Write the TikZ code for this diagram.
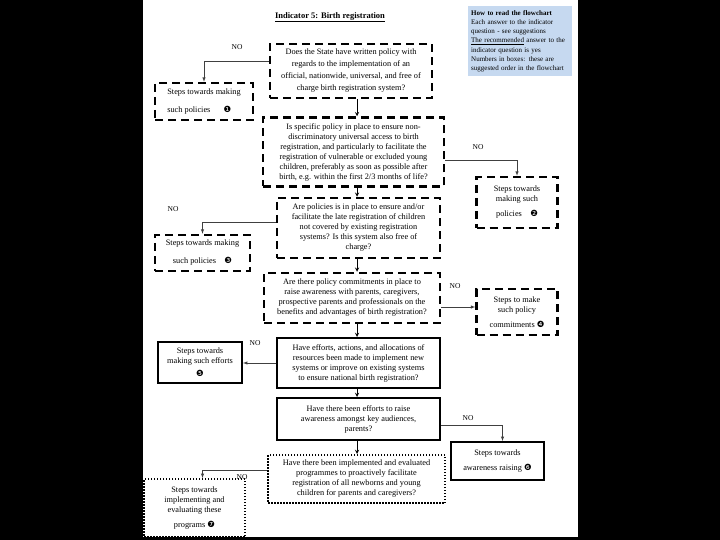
\documentclass[tikz,border=0pt]{standalone}
\usepackage{fontspec}
\setmainfont{Liberation Serif}
\newfontfamily\dingfont{DejaVu Sans}
\usetikzlibrary{arrows}
\definecolor{legendblue}{RGB}{198,217,240}
\newcommand{\stepno}[1]{{\dingfont\fontsize{8.5}{8.5}\selectfont #1}}

\begin{document}
\begin{tikzpicture}
    [x=1pt,y=-1pt,font=\fontsize{8.3}{10}\selectfont,
     dashbox/.style={draw,line width=2.5pt,dash pattern=on 8pt off 5pt,align=center,inner sep=2pt},
     solidbox/.style={draw,line width=2pt,align=center,inner sep=2pt},
     dotbox/.style={draw,line width=2pt,dash pattern=on 1.5pt off 1.5pt,align=center,inner sep=2pt},
     noline/.style={-latex,color=black!75,line width=0.5pt},
     yesline/.style={-stealth,color=black,line width=0.9pt},
     nolabel/.style={font=\fontsize{7.5}{8}\selectfont,inner sep=1pt}]
%page and frame
\fill[black] (0,0) rectangle (720,540);
\fill[white] (143,0) rectangle (578,537);
\useasboundingbox (0,0) rectangle (720,540);
%title and legend
\node[font=\bfseries\fontsize{8.5}{9}\selectfont] (title) at (330,17) {\underline{Indicator 5: Birth registration}};
\node[fill=legendblue,anchor=north west,minimum width=104,minimum height=70,text width=98,align=left,inner sep=3pt,font=\fontsize{7}{9.3}\selectfont] (legend) at (468,6)
  {\textbf{How to read the flowchart}\\Each answer to the indicator\\question - see suggestions\\\underline{The recommended} answer to the\\indicator question is yes\\Numbers in boxes: these are\\suggested order in the flowchart};
%main questions
\node[dashbox,minimum width=162,minimum height=54,font=\fontsize{8.3}{12}\selectfont] (q1) at (351,71)
  {Does the State have written policy with\\regards to the implementation of an\\official, nationwide, universal, and free of\\charge birth registration system?};
\node[dashbox,minimum width=181,minimum height=69] (q2) at (353.5,152)
  {Is specific policy in place to ensure non-\\discriminatory universal access to birth\\registration, and particularly to facilitate the\\registration of vulnerable or excluded young\\children, preferably as soon as possible after\\birth, e.g. within the first 2/3 months of life?};
\node[dashbox,minimum width=163,minimum height=60] (q3) at (358.5,228)
  {Are policies is in place to ensure and/or\\facilitate the late registration of children\\not covered by existing registration\\systems? Is this system also free of\\charge?};
\node[dashbox,minimum width=176,minimum height=50] (q4) at (352,298)
  {Are there policy commitments in place to\\raise awareness with parents, caregivers,\\prospective parents and professionals on the\\benefits and advantages of birth registration?};
\node[solidbox,minimum width=163,minimum height=50] (q5) at (358.5,363)
  {Have efforts, actions, and allocations of\\resources been made to implement new\\systems or improve on existing systems\\to ensure national birth registration?};
\node[solidbox,minimum width=163,minimum height=42] (q6) at (358.5,419)
  {Have there been efforts to raise\\awareness amongst key audiences,\\parents?};
\node[dotbox,minimum width=177,minimum height=48] (q7) at (356.5,479)
  {Have there been implemented and evaluated\\programmes to proactively facilitate\\registration of all newborns and young\\children for parents and caregivers?};
%steps boxes
\node[dashbox,minimum width=98,minimum height=37,align=left] (sA) at (204,101.5)
  {Steps towards making\\[8pt]such policies\hspace{1.6em}\stepno{❶}};
\node[dashbox,minimum width=81,minimum height=51] (sB) at (517,202.5)
  {Steps towards\\making such\\[5pt]policies\quad\stepno{❷}};
\node[dashbox,minimum width=95,minimum height=36] (sC) at (202.5,253)
  {Steps towards making\\[8pt]such policies\quad\stepno{❸}};
\node[dashbox,minimum width=81,minimum height=46] (sD) at (517,312)
  {Steps to make\\such policy\\[5pt]commitments \stepno{❹}};
\node[solidbox,minimum width=84,minimum height=41] (sE) at (200,362.5)
  {Steps towards\\making such efforts\\[3pt]\stepno{❺}};
\node[solidbox,minimum width=93,minimum height=38] (sF) at (497.5,461)
  {Steps towards\\[5pt]awareness raising \stepno{❻}};
\node[dotbox,minimum width=101,minimum height=58] (sG) at (194.5,508)
  {Steps towards\\implementing and\\evaluating these\\[5pt]programs \stepno{❼}};
%NO labels
\node[nolabel] (no1) at (237,47) {NO};
\node[nolabel] (no2) at (478,147) {NO};
\node[nolabel] (no3) at (173,209) {NO};
\node[nolabel] (no4) at (455,286) {NO};
\node[nolabel] (no5) at (255,343) {NO};
\node[nolabel] (no6) at (468,418) {NO};
\node[nolabel] (no7) at (242,477) {NO};
%yes arrows down the middle
\coordinate (spine) at (357,0);
\draw[yesline] (q1.south -| spine) -- (q2.north -| spine);
\draw[yesline] (q2.south -| spine) -- (q3.north -| spine);
\draw[yesline] (q3.south -| spine) -- (q4.north -| spine);
\draw[yesline] (q4.south -| spine) -- (q5.north -| spine);
\draw[yesline] (q5.south -| spine) -- (q6.north -| spine);
\draw[yesline] (q6.south -| spine) -- (q7.north -| spine);
%no arrows to the steps
\draw[noline] ([yshift=10pt]q1.west) -| (sA.north);
\draw[noline] ([yshift=-8pt]q2.east) -| (sB.north);
\draw[noline] ([yshift=6pt]q3.west) -| (sC.north);
\draw[noline] ([yshift=-9pt]q4.east) -- ([yshift=-9pt]q4.east -| sD.west);
\draw[noline] (q5.west) -- (q5.west -| sE.east);
\draw[noline] ([yshift=-6pt]q6.east) -| ([xshift=5pt]sF.north);
\draw[noline] ([yshift=9pt]q7.west) -| ([xshift=8pt]sG.north);
\end{tikzpicture}
\end{document}
